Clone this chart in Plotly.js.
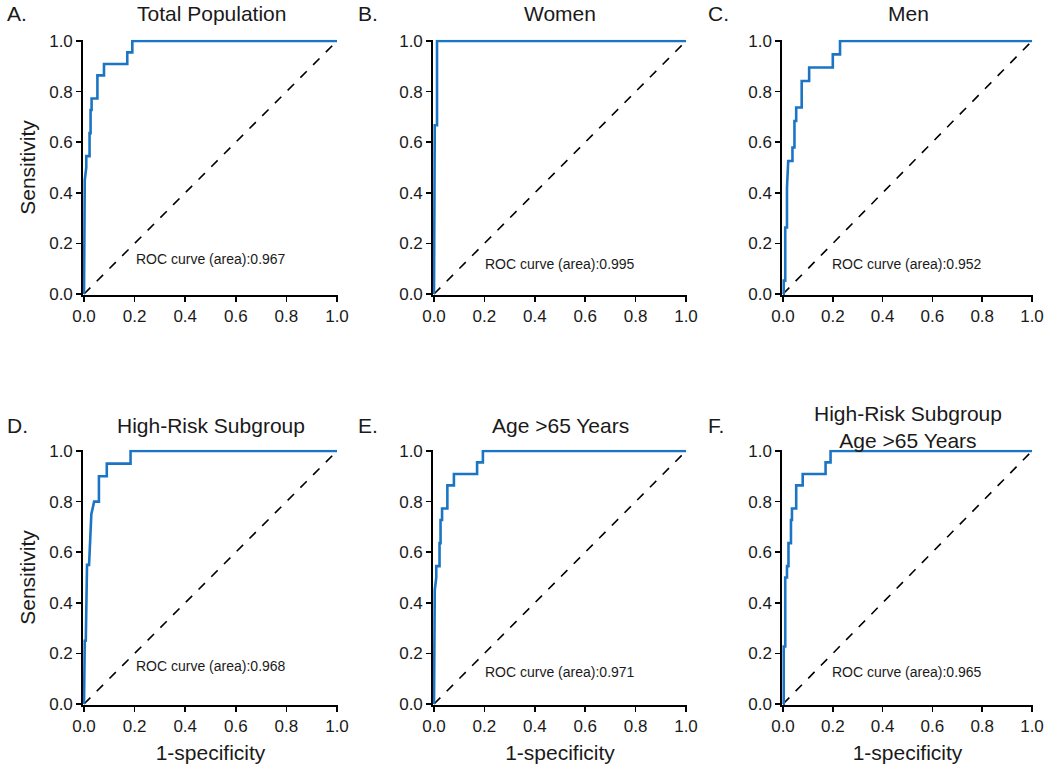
<!DOCTYPE html>
<html>
<head>
<meta charset="utf-8">
<script src="https://cdn.plot.ly/plotly-3.0.1.min.js"></script>
<style>body{margin:0;background:#fff}#roc{width:1050px;height:771px}</style>
</head>
<body>
<div id="roc"></div>
<script>
// ROC points (1-specificity, sensitivity)
var fprA = [0, 0.003, 0.009, 0.009, 0.022, 0.022, 0.026, 0.026, 0.030, 0.030, 0.053, 0.053, 0.079, 0.079, 0.171, 0.171, 0.191, 0.191, 1];
var tprA = [0, 0.45, 0.50, 0.545, 0.545, 0.636, 0.636, 0.727, 0.727, 0.773, 0.773, 0.864, 0.864, 0.909, 0.909, 0.955, 0.955, 1, 1];

var fprB = [0, 0.003, 0.012, 0.012, 1];
var tprB = [0, 0.667, 0.667, 1, 1];

var fprC = [0, 0.003, 0.003, 0.009, 0.009, 0.016, 0.016, 0.021, 0.038, 0.038, 0.046, 0.046, 0.053, 0.053, 0.075, 0.075, 0.105, 0.105, 0.200, 0.200, 0.229, 0.229, 1];
var tprC = [0, 0, 0.053, 0.053, 0.263, 0.263, 0.421, 0.526, 0.526, 0.579, 0.579, 0.684, 0.684, 0.737, 0.737, 0.842, 0.842, 0.895, 0.895, 0.947, 0.947, 1, 1];

var fprD = [0, 0.003, 0.003, 0.007, 0.009, 0.012, 0.020, 0.024, 0.029, 0.040, 0.059, 0.059, 0.090, 0.090, 0.184, 0.184, 1];
var tprD = [0, 0.15, 0.25, 0.25, 0.50, 0.55, 0.55, 0.65, 0.75, 0.80, 0.80, 0.90, 0.90, 0.95, 0.95, 1, 1];

var fprE = [0, 0.003, 0.009, 0.009, 0.022, 0.022, 0.026, 0.026, 0.032, 0.032, 0.053, 0.053, 0.079, 0.079, 0.171, 0.171, 0.194, 0.194, 1];
var tprE = [0, 0.45, 0.50, 0.545, 0.545, 0.636, 0.636, 0.727, 0.727, 0.773, 0.773, 0.864, 0.864, 0.909, 0.909, 0.955, 0.955, 1, 1];

var fprF = [0, 0.003, 0.003, 0.009, 0.009, 0.016, 0.016, 0.022, 0.022, 0.032, 0.032, 0.036, 0.036, 0.053, 0.053, 0.079, 0.079, 0.171, 0.171, 0.191, 0.191, 1];
var tprF = [0, 0, 0.227, 0.227, 0.50, 0.50, 0.545, 0.545, 0.636, 0.636, 0.727, 0.727, 0.773, 0.773, 0.864, 0.864, 0.909, 0.909, 0.955, 0.955, 1, 1];

var areas = ["0.967", "0.995", "0.952", "0.968", "0.971", "0.965"];
var letters = ["A.", "B.", "C.", "D.", "E.", "F."];
var titles = ["Total Population", "Women", "Men", "High-Risk Subgroup", "Age >65 Years", "High-Risk Subgroup<br>Age >65 Years"];
var diag = [0, 1];

var fprs = [fprA, fprB, fprC, fprD, fprE, fprF];
var tprs = [tprA, tprB, tprC, tprD, tprE, tprF];

var blue = "#1b75c4";
var ink = "#1a1a1a";
var font = "Liberation Sans, Arial, sans-serif";

// plot boxes in pixels (0..1 data span), padded a little so the lines at 0 and 1 aren't clipped
var W = 1050, H = 771, pad = 0.005;
var colPx = [[84, 337], [434, 686], [783, 1032]];
var rowPx = [[41, 294], [451, 704]];
function xd(c) { var s = (c[1] - c[0]) * pad; return [(c[0] - s) / W, (c[1] + s) / W]; }
function yd(r) { var s = (r[1] - r[0]) * pad; return [1 - (r[1] + s) / H, 1 - (r[0] - s) / H]; }
var labelX = [211, 560, 908];
var letterX = [5, 356, 706];
var rocY = [0.14, 0.12, 0.12, 0.15, 0.125, 0.125];

var data = [];
var layout = {
  width: W, height: H,
  margin: {l: 0, r: 0, t: 0, b: 0},
  paper_bgcolor: "#fff", plot_bgcolor: "#fff",
  showlegend: false,
  font: {family: font, color: ink},
  annotations: []
};

for (var i = 0; i < 6; i++) {
  var n = i + 1;
  var xa = n === 1 ? "x" : "x" + n;
  var ya = n === 1 ? "y" : "y" + n;
  var col = i % 3, row = Math.floor(i / 3);

  data.push({x: diag, y: diag, xaxis: xa, yaxis: ya, mode: "lines",
    line: {color: "#000", width: 1.6, dash: "dash"}});
  data.push({x: fprs[i], y: tprs[i], xaxis: xa, yaxis: ya, mode: "lines",
    line: {color: blue, width: 2.6}});

  var axCommon = {
    range: [-pad, 1 + pad], tick0: 0, dtick: 0.2, tickformat: ".1f",
    showgrid: false, zeroline: false, layer: "below traces",
    showline: true, linecolor: "#000", linewidth: 1.5,
    ticks: "outside", ticklen: 5, tickwidth: 1.5, tickcolor: "#000",
    tickfont: {size: 17, family: font, color: ink},
    fixedrange: true
  };
  var xax = Object.assign({}, axCommon, {domain: xd(colPx[col]), anchor: ya});
  var yax = Object.assign({}, axCommon, {domain: yd(rowPx[row]), anchor: xa});
  if (row === 1) xax.title = {text: "1-specificity", font: {size: 21, family: font, color: ink}, standoff: 10};
  if (col === 0) yax.title = {text: "Sensitivity", font: {size: 21, family: font, color: ink}, standoff: 8};
  layout["xaxis" + (n === 1 ? "" : n)] = xax;
  layout["yaxis" + (n === 1 ? "" : n)] = yax;

  layout.annotations.push({xref: xa + " domain", yref: ya, x: 0.5, y: rocY[i],
    text: "ROC curve (area):" + areas[i], showarrow: false,
    font: {size: 14, family: font, color: ink}});

  var topPx = row === 0 ? 13 : 425;
  layout.annotations.push({xref: "paper", yref: "paper",
    x: letterX[col] / W, y: 1 - topPx / H,
    xanchor: "left", yanchor: "middle", text: letters[i], showarrow: false,
    font: {size: 21, family: font, color: ink}});
  layout.annotations.push({xref: "paper", yref: "paper",
    x: labelX[col] / W, y: 1 - (i === 5 ? 427 : topPx) / H,
    xanchor: "center", yanchor: "middle", text: titles[i], showarrow: false,
    font: {size: 21, family: font, color: ink}});
}

Plotly.newPlot("roc", data, layout, {staticPlot: true});
</script>
</body>
</html>
